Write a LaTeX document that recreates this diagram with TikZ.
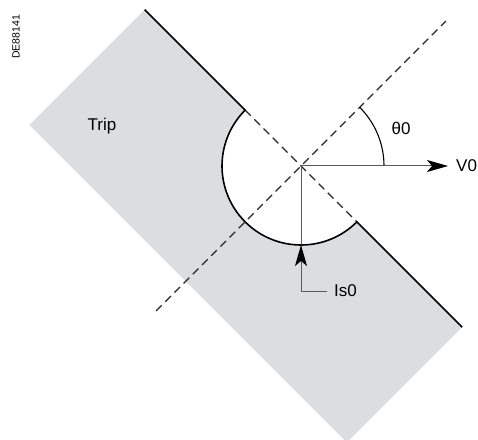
\documentclass[tikz,border=0pt]{standalone}
\usepackage{fontspec}
\setmainfont{Liberation Sans}
\usetikzlibrary{arrows.meta,calc}
\definecolor{tripgray}{RGB}{220,221,223}
\definecolor{axisgray}{RGB}{90,90,90}
\tikzset{
  edge/.style={line width=1.6pt, black},
  dashline/.style={line width=1.1pt, black!85, dash pattern=on 8pt off 5pt},
  axis/.style={line width=1pt, axisgray},
  lbl/.style={font=\fontsize{17}{20}\selectfont, inner sep=0pt},
  bigtip/.style={-{Stealth[length=21pt, width=12pt, inset=5pt, color=black]}},
}
\begin{document}
\begin{tikzpicture}[x=1pt,y=1pt]
\useasboundingbox (0,0) rectangle (478,439);
\clip (0,0) rectangle (478,439);
\coordinate (C) at (301,273);
\coordinate (T) at ($(C)+(135:221)$);
\coordinate (L) at ($(T)+(225:163)$);
\coordinate (R) at ($(C)+(-45:228)$);
\coordinate (B) at ($(R)+(225:163)$);
\coordinate (A1) at ($(C)+(135:79)$);
\coordinate (A2) at ($(C)+(-45:79)$);
\coordinate (D1) at ($(C)+(45:205)$);
\coordinate (D2) at ($(C)+(225:205)$);
% gray trip region
\fill[tripgray] (T) -- (L) -- (B) -- (R) -- (A2) arc[start angle=-45, end angle=-225, radius=79] -- cycle;
% dashed lines
\draw[dashline] (D2) -- (D1);
\draw[dashline] (A1) -- (A2);
% boundary
\draw[edge, line join=miter] (T) -- (A1) arc[start angle=135, end angle=315, radius=79] -- (R);
% theta arc
\draw[line width=1.1pt] ($(C)+(0:83)$) arc[start angle=0, end angle=45, radius=83];
% V0
\coordinate (Vtip) at (448,273);
\draw[axis, bigtip] (C) -- (Vtip);
\node[lbl, anchor=west] (V0) at (456,273) {V0};
\node[lbl] (th) at (401,311) {θ0};
% Is0
\coordinate (Ibot) at ($(C)+(0,-79)$);
\coordinate (Icorner) at (301,148);
\coordinate (Iend) at (327,148);
\draw[axis] (C) -- (Ibot);
\draw[axis, bigtip] (Iend) -- (Icorner) -- (Ibot);
\node[lbl, anchor=west] (Is0) at (334,148) {Is0};
% Trip
\node[lbl] (trip) at (102,313) {Trip};
% reference code
\node[font=\fontsize{10.5}{12}\selectfont, rotate=90, inner sep=0pt] (ref) at (16,402) {DE88141};
\end{tikzpicture}
\end{document}
